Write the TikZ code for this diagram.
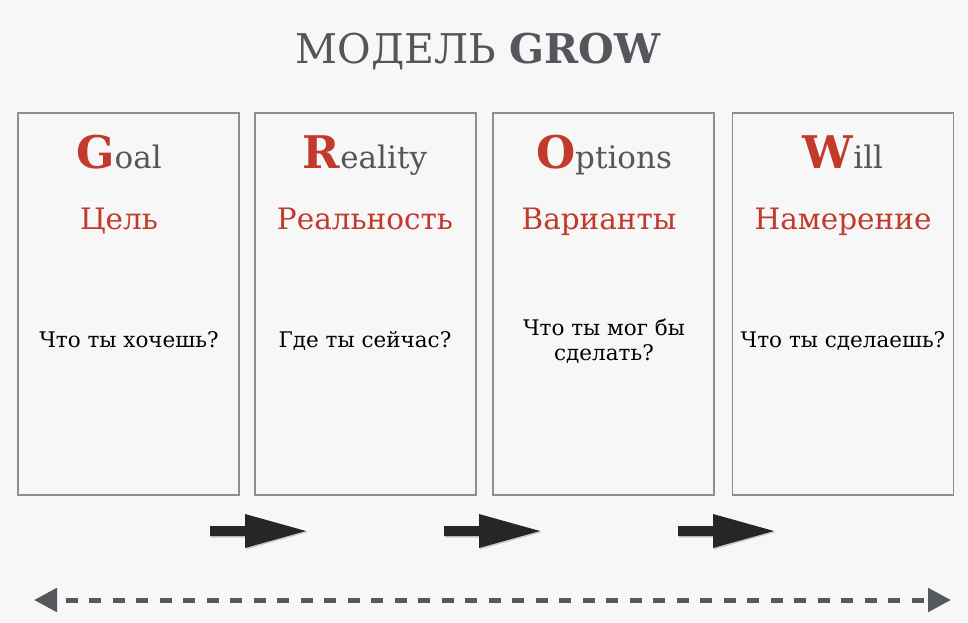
\documentclass[tikz,border=0pt]{standalone}
\usepackage{fontspec}
\setmainfont{DejaVu Serif}
\usetikzlibrary{arrows.meta}
\definecolor{bg}{HTML}{F7F7F7}
\definecolor{redt}{HTML}{C23A2B}
\definecolor{grayt}{HTML}{53575C}
\definecolor{boxline}{HTML}{8E8E8E}
\definecolor{arrowc}{HTML}{262626}
\definecolor{dashc}{HTML}{54575C}
\tikzset{
  panel/.style={draw=boxline, line width=1.5pt, fill=bg, minimum width=221pt, minimum height=382pt, inner sep=0pt},
  headtxt/.style={anchor=base, inner sep=0pt, text=grayt, font=\fontsize{31}{33}\selectfont},
  subtxt/.style={anchor=base, inner sep=0pt, text=redt, font=\fontsize{29.5}{31}\selectfont},
  bodytxt/.style={anchor=base, inner sep=0pt, text=black, font=\fontsize{21.5}{25}\selectfont, align=center},
  fatarrow/.style={fill=arrowc},
  fatshadow/.style={fill=black, opacity=0.18},
}
\newcommand{\bigL}[1]{{\color{redt}\fontsize{45}{48}\selectfont\bfseries #1}}
\begin{document}
\begin{tikzpicture}[x=1pt,y=-1pt]
\useasboundingbox (0,0) rectangle (968,622);
\fill[bg] (0,0) rectangle (968,622);
% title
\node[anchor=base, inner sep=0pt, text=grayt, font=\fontsize{41}{44}\selectfont] (title) at (478,63) {МОДЕЛЬ \textbf{GROW}};
% panels
\node[panel] (p1) at (128.5,304) {};
\node[panel] (p2) at (365.5,304) {};
\node[panel] (p3) at (603.5,304) {};
\node[panel] (p4) at (843,304) {};
% headings
\node[headtxt] (h1) at (119,168) {\bigL{G}oal};
\node[headtxt] (h2) at (365,168) {\bigL{R}eality};
\node[headtxt] (h3) at (604,168) {\bigL{O}ptions};
\node[headtxt] (h4) at (843,168) {\bigL{W}ill};
% russian names
\node[subtxt] (s1) at (119,229) {Цель};
\node[subtxt] (s2) at (365,229) {Реальность};
\node[subtxt] (s3) at (599,229) {Варианты};
\node[subtxt] (s4) at (843,229) {Намерение};
% questions
\node[bodytxt] (q1) at (129,347) {Что ты хочешь?};
\node[bodytxt] (q2) at (365,347) {Где ты сейчас?};
\node[bodytxt] (q3) at (604,360) {Что ты мог бы\\сделать?};
\node[bodytxt] (q4) at (843,347) {Что ты сделаешь?};
% fat arrows
\foreach \x in {210,444,678}{
  \fill[fatshadow] (\x+1,527.5) -- (\x+36,527.5) -- (\x+36,515.5) -- (\x+98,532) -- (\x+36,549.5) -- (\x+36,537.5) -- (\x+1,537.5) -- cycle;
  \fill[fatarrow] (\x,526) -- (\x+35,526) -- (\x+35,514) -- (\x+96,531) -- (\x+35,548) -- (\x+35,536) -- (\x,536) -- cycle;
}
% dashed double arrow
\coordinate (dl) at (34,600);
\coordinate (dr) at (951,600);
\draw[dashc, line width=5pt, dash pattern=on 12pt off 11.5pt, dash phase=-10pt,
  {Triangle[length=23pt,width=23pt]}-{Triangle[length=23pt,width=23pt]}] (dl) -- (dr);
\end{tikzpicture}
\end{document}
